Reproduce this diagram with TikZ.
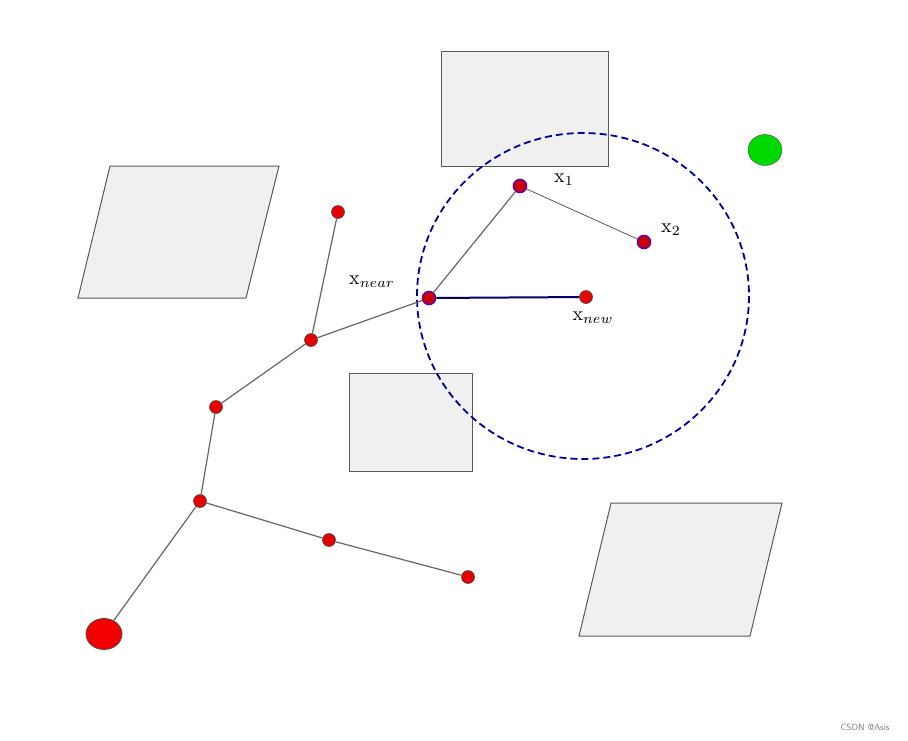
\documentclass[tikz,border=0pt]{standalone}
\usepackage{fontspec}
\usetikzlibrary{shapes.geometric}
\begin{document}
\begin{tikzpicture}[x=1pt,y=-1pt,
  obs/.style={fill=gray!12,draw=gray!70!black,line width=1pt},
  pt/.style={circle,fill=red!90!black,draw=gray!60!black,line width=0.6pt,minimum size=13pt,inner sep=0pt},
  ppt/.style={circle,fill=red!80!black,draw=violet!80!blue,line width=1.6pt,minimum size=13pt,inner sep=0pt},
  edge/.style={draw=gray!80!black,line width=1.2pt},
  lbl/.style={scale=2,inner sep=0pt}]
\useasboundingbox (0,0) rectangle (908,740);
\fill[white] (0,0) rectangle (908,740);
\draw[obs] (441,51) rectangle (608,166);
\draw[obs] (110,166) -- (279,166) -- (246,298) -- (78,298) -- cycle;
\draw[obs] (349,373) rectangle (472,471);
\draw[obs] (611,503) -- (782,503) -- (750,636) -- (579,636) -- cycle;
\node[ellipse,fill=green!85!black,draw=gray!60!black,minimum width=34pt,minimum height=31pt,inner sep=0pt] (goal) at (765,150) {};
\draw[blue!60!black,dashed,line width=1.8pt,dash pattern=on 7pt off 4pt] (583,296) ellipse (166 and 163);
\node[ellipse,fill=red!95!black,draw=gray!60!black,line width=0.8pt,minimum width=36pt,minimum height=31pt,inner sep=0pt] (root) at (104,634) {};
\node[pt] (a) at (200,501) {};
\node[pt] (b) at (216,407) {};
\node[pt] (c) at (311,340) {};
\node[pt] (d) at (338,212) {};
\node[ppt] (near) at (429,298) {};
\node[ppt] (x1) at (520,186) {};
\node[ppt] (x2) at (644,242) {};
\node[pt] (new) at (586,297) {};
\node[pt] (e) at (329,540) {};
\node[pt] (f) at (468,577) {};
\draw[edge] (root) -- (a);
\draw[edge] (a) -- (b);
\draw[edge] (b) -- (c);
\draw[edge] (c) -- (d);
\draw[edge] (c) -- (near);
\draw[edge] (near) -- (x1);
\draw[draw=gray!70!black,line width=0.8pt] (x1) -- (x2);
\draw[draw=blue!40!black,line width=2pt] (near) -- (new);
\draw[edge] (a) -- (e);
\draw[edge] (e) -- (f);
\node[lbl] (lnear) at (372,282) {$\mathrm{x}_{near}$};
\node[lbl] (lx1) at (564,180) {$\mathrm{x}_1$};
\node[lbl] (lx2) at (671,230) {$\mathrm{x}_2$};
\node[lbl] (lnew) at (593,318) {$\mathrm{x}_{new}$};
\node[font=\fontsize{9}{10}\selectfont\sffamily,text=gray] (wm) at (865,727) {CSDN @Asis};
\end{tikzpicture}
\end{document}
